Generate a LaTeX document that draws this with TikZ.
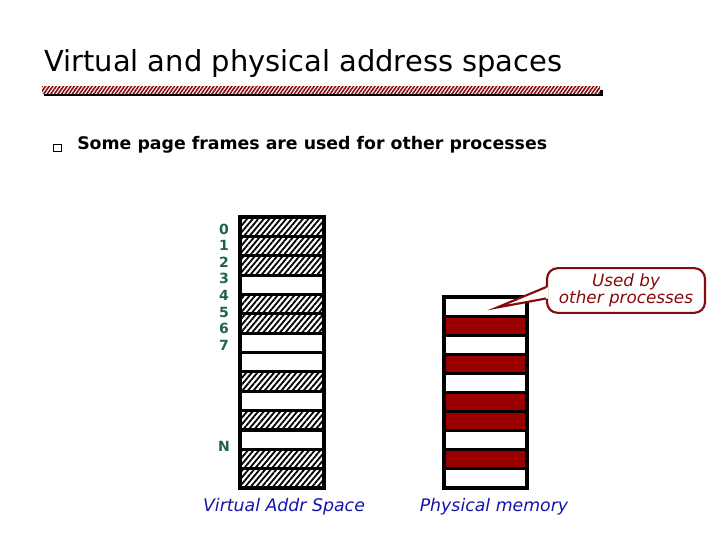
\documentclass[tikz,border=0pt]{standalone}
\usepackage{fontspec}
\setmainfont{DejaVu Sans}
\usetikzlibrary{patterns.meta}
\definecolor{rowred}{RGB}{155,0,0}
\definecolor{barred}{RGB}{140,10,10}
\definecolor{calred}{RGB}{135,10,10}
\definecolor{numgreen}{RGB}{30,100,70}
\definecolor{capblue}{RGB}{20,20,170}
\tikzset{
  hatch/.style={pattern={Lines[angle=50,distance=3.2pt,line width=1.35pt]}, pattern color=black},
  sep/.style={line width=2.3pt, black},
  numlab/.style={text=numgreen, font=\bfseries\fontsize{10.5}{12}\selectfont, inner sep=0pt},
  caplab/.style={text=capblue, font=\itshape\fontsize{13}{15}\selectfont, inner sep=0pt},
}
\begin{document}
\begin{tikzpicture}[x=0.75pt,y=-0.75pt]
\useasboundingbox (0,0) rectangle (720,540);
% title
\node[anchor=base west, inner sep=0pt, font=\fontsize{21.7}{26}\selectfont] (title) at (44,71) {Virtual and physical address spaces};
\fill[black] (44,90) rectangle (603,96);
\fill[white] (42,86.5) rectangle (600,93.5);
\fill[pattern={Lines[angle=55,distance=2.2pt,line width=1.2pt]}, pattern color=barred] (42,86.5) rectangle (600,93.5);
% bullet
\node[draw, line width=0.7pt, minimum size=5.5pt, inner sep=0pt] (bul) at (57.5,148) {};
\node[anchor=base west, inner sep=0pt, font=\bfseries\fontsize{13}{15}\selectfont] (bullet) at (77,149) {Some page frames are used for other processes};
% virtual address space
\foreach \i in {0,1,2,4,5,8,10,12,13}
  \fill[hatch] (240,{217+\i*19.36}) rectangle (324,{217+(\i+1)*19.36});
\foreach \i in {1,...,13}
  \draw[sep] (240,{217+\i*19.36}) -- (324,{217+\i*19.36});
\draw[sep] (240,217) rectangle (324,488);
\foreach \k in {0,...,7}
  \node[numlab] (n\k) at (224,{229+\k*16.6}) {\k};
\node[numlab] (nN) at (224,446) {N};
% physical memory
\foreach \i in {1,3,5,6,8}
  \fill[rowred] (444,{297+\i*19.1}) rectangle (527,{297+(\i+1)*19.1});
\foreach \i in {1,...,9}
  \draw[sep] (444,{297+\i*19.1}) -- (527,{297+\i*19.1});
\draw[sep] (444,297) rectangle (527,488);
% callout
\node[draw=calred, line width=1.6pt, rounded corners=8pt, fill=white, text=calred,
      font=\itshape\fontsize{12.6}{13}\selectfont, align=center,
      minimum width=118.5pt, minimum height=33.5pt, inner sep=0pt] (callout) at (626,290.5) {Used by\\other processes};
\coordinate (tip) at (497,307.5);
\fill[white] ([xshift=1.5pt,yshift=2.5pt]callout.west) -- (tip) -- ([xshift=1.5pt,yshift=-6pt]callout.west) -- cycle;
\draw[calred, line width=1.6pt, line join=miter] ([yshift=2.5pt]callout.west) -- (tip) -- ([yshift=-6pt]callout.west);
% captions
\node[caplab] (vcap) at (284,507) {Virtual Addr Space};
\node[caplab] (pcap) at (494,507) {Physical memory};
\end{tikzpicture}
\end{document}
